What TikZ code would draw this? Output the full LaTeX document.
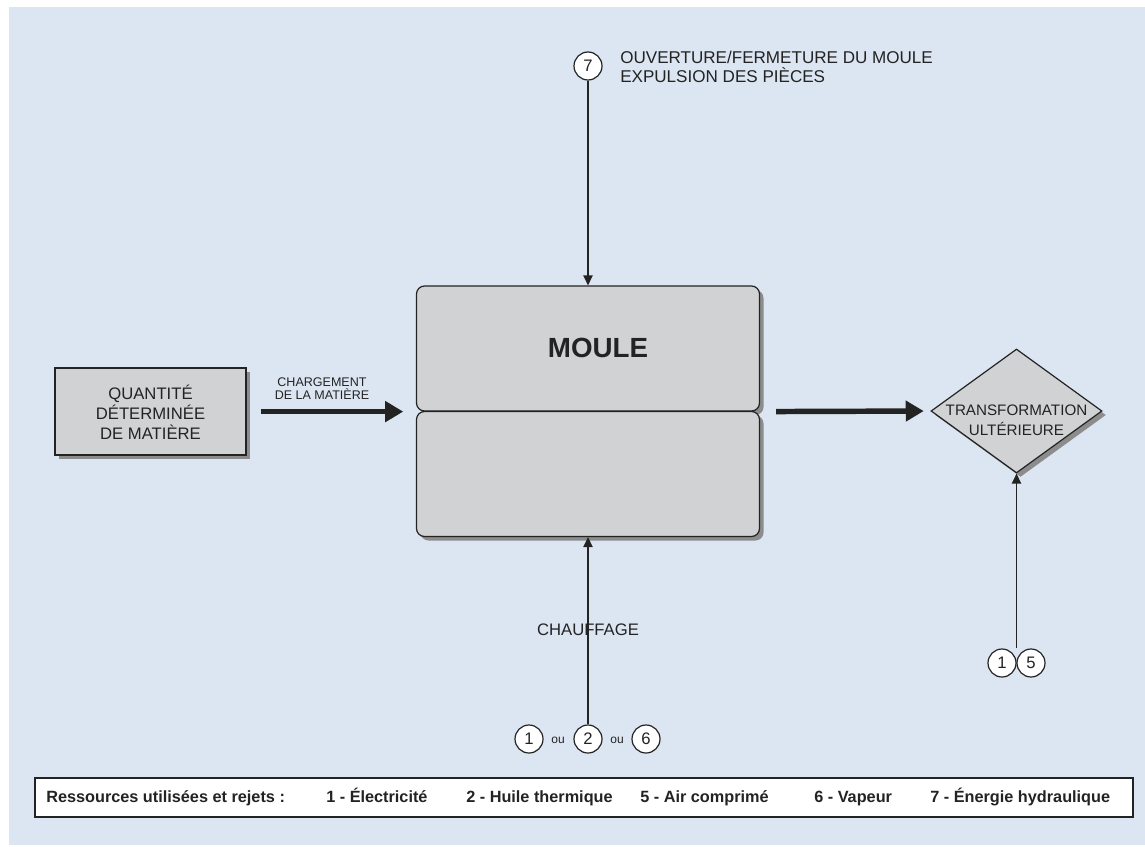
\documentclass[tikz,border=0pt]{standalone}
\usepackage{fontspec}
\setmainfont{Liberation Sans}
\usetikzlibrary{arrows.meta,shapes.geometric,shadows,calc}
\definecolor{bgblue}{RGB}{220,230,242}
\definecolor{boxgray}{RGB}{209,210,212}
\definecolor{ink}{RGB}{35,35,35}
\definecolor{shade}{RGB}{140,140,140}

\begin{document}
\begin{tikzpicture}[x=0.75pt,y=-0.75pt,
  shadowed/.style={drop shadow={shadow xshift=3pt,shadow yshift=-3pt,fill=shade,opacity=1}},
  graybox/.style={draw=ink,line width=0.9pt,fill=boxgray,shadowed},
  moulepart/.style={graybox,rectangle,rounded corners=6pt,minimum width=257.25pt,minimum height=93.75pt,inner sep=0pt},
  numcirc/.style={circle,draw=ink,line width=0.9pt,fill=white,minimum size=21pt,inner sep=0pt,text=ink,font=\fontsize{12.5}{14}\selectfont},
  flow/.style={draw=ink,line width=1pt,-{Triangle[length=7.5pt,width=7pt]}},
  bigflow/.style={draw=ink,line width=4.1pt,-{Triangle[length=13.5pt,width=15pt]}},
  txt/.style={text=ink,inner sep=0pt,align=center},
  legtxt/.style={text=ink,inner sep=0pt,anchor=base west,font=\fontsize{12.2}{14}\selectfont\bfseries},
]
\useasboundingbox (0,0) rectangle (1145,846);
\fill[bgblue] (9,7) rectangle (1145,845);

% mould, in two halves
\node[moulepart] (mtop) at (588,348.5) {};
\node[moulepart] (mbot) at (588,474) {};
\node[txt,font=\fontsize{20.8}{24}\selectfont\bfseries] (moule) at (598,348) {MOULE};

% material input
\node[graybox,rectangle,minimum width=143.25pt,minimum height=65.25pt,inner sep=0pt] (qty) at (150.5,411.5) {};
\node[txt,font=\fontsize{12.5}{15}\selectfont] (qtytxt) at (150.5,412) {QUANTITÉ\\DÉTERMINÉE\\DE MATIÈRE};

% downstream step
\node[graybox,diamond,minimum width=128.25pt,minimum height=93pt,inner sep=0pt] (trans) at (1016.5,411) {};
\node[txt,font=\fontsize{11.4}{15}\selectfont] (transtxt) at (1016.5,420) {TRANSFORMATION\\ULTÉRIEURE};

% opening / closing
\node[numcirc] (c7) at (588,66) {7};
\node[txt,anchor=west,align=left,font=\fontsize{12.8}{14.25}\selectfont] (opentxt) at (620,66.5) {OUVERTURE/FERMETURE DU MOULE\\EXPULSION DES PIÈCES};
\draw[flow] (c7) -- (c7 |- mtop.north);

% heating
\node[numcirc] (h1) at (529,739) {1};
\node[numcirc] (h2) at (588,739) {2};
\node[numcirc] (h6) at (646,739) {6};
\node[txt,font=\fontsize{9}{10}\selectfont] (ou1) at (558,740) {ou};
\node[txt,font=\fontsize{9}{10}\selectfont] (ou2) at (617,740) {ou};
\draw[flow] (h2) -- (h2 |- mbot.south);
\node[txt,font=\fontsize{12.5}{14}\selectfont] (heat) at (588,630) {CHAUFFAGE};

% resources of the downstream step
\node[numcirc] (r1) at (1002,663) {1};
\node[numcirc] (r5) at (1031,663) {5};
\coordinate (r15) at ($(r1.north)!0.5!(r5.north)$);
\draw[flow] (r15) -- (r15 |- trans.south);

% main material flow
\node[txt,font=\fontsize{9.4}{10}\selectfont] (loadtxt) at (322,388.5) {CHARGEMENT\\DE LA MATIÈRE};
\draw[bigflow,shorten <=10.5pt,shorten >=9.5pt] (qty.east |- mtop.south) -- (mtop.south west);
\draw[bigflow,shorten <=12pt,shorten >=5pt] (mtop.south east) -- (trans.west);

% legend
\node[draw=ink,fill=white,line width=0.9pt,minimum width=823.5pt,minimum height=29.25pt,inner sep=0pt,
      drop shadow={shadow xshift=1pt,shadow yshift=-1pt,fill=shade,opacity=1}] (legend) at (584,797.5) {};
\node[legtxt] (leg0) at (46,802.5) {Ressources utilisées et rejets :};
\node[legtxt] (leg1) at (326,802.5) {1 - Électricité};
\node[legtxt] (leg2) at (466,802.5) {2 - Huile thermique};
\node[legtxt] (leg5) at (640,802.5) {5 - Air comprimé};
\node[legtxt] (leg6) at (814,802.5) {6 - Vapeur};
\node[legtxt] (leg7) at (930,802.5) {7 - Énergie hydraulique};
\end{tikzpicture}
\end{document}
